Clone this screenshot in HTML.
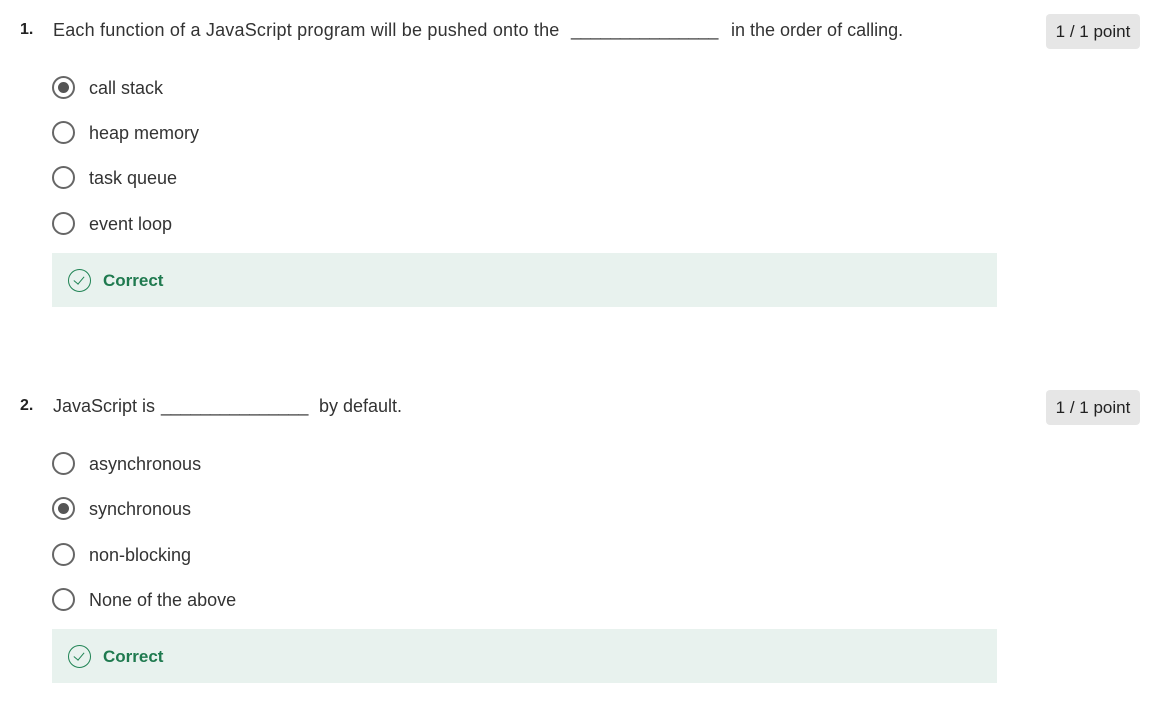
<!DOCTYPE html>
<html><head><meta charset="utf-8"><style>
body{margin:0;width:1158px;height:721px;background:#fff;font-family:"Liberation Sans",sans-serif;color:#1f1f1f;position:relative;overflow:hidden}
.a{position:absolute;white-space:nowrap;line-height:20px}
.q{font-size:18px;color:#333}
.n{font-size:16px;font-weight:bold;color:#222}
.r{position:absolute;width:23px;height:23px;border:2.5px solid #666;border-radius:50%;box-sizing:border-box}
.r.s::after{content:"";position:absolute;left:3.5px;top:3.5px;width:11px;height:11px;border-radius:50%;background:#555}
.o{font-size:18px;color:#333}
.box{position:absolute;left:52px;width:945px;height:54px;background:#e8f2ee}
.ck{position:absolute;left:16px;top:16px;width:23px;height:23px;border:1.5px solid #1f8354;border-radius:50%;box-sizing:border-box}
.ck::after{content:"";position:absolute;left:7px;top:4px;width:5px;height:9px;border:solid #1f8354;border-width:0 1.5px 1.5px 0;transform:rotate(40deg)}
.ct{position:absolute;left:51px;top:18px;font-size:17px;font-weight:bold;color:#1f7a4f}
.b{position:absolute;left:1046px;width:94px;height:35px;background:#e6e6e6;border-radius:4px;font-size:17px;text-align:center;line-height:36px;color:#222}
</style></head><body>
<div class="a n" style="left:20px;top:20px">1.</div>
<div class="a q" style="left:53px;top:20px;letter-spacing:0.2px">Each function of a JavaScript program will be pushed onto the</div>
<div class="a q" style="left:571px;top:20px;letter-spacing:-0.2px">_______________</div>
<div class="a q" style="left:731px;top:20px">in the order of calling.</div>
<div class="b" style="top:14px">1 / 1 point</div>
<div class="r s" style="left:52px;top:76px"></div><div class="a o" style="left:89px;top:78px">call stack</div>
<div class="r" style="left:52px;top:121px"></div><div class="a o" style="left:89px;top:123px">heap memory</div>
<div class="r" style="left:52px;top:166px"></div><div class="a o" style="left:89px;top:168px">task queue</div>
<div class="r" style="left:52px;top:212px"></div><div class="a o" style="left:89px;top:214px">event loop</div>
<div class="box" style="top:253px"><div class="ck"></div><div class="ct">Correct</div></div>

<div class="a n" style="left:20px;top:396px">2.</div>
<div class="a q" style="left:53px;top:396px">JavaScript is</div>
<div class="a q" style="left:161px;top:396px;letter-spacing:-0.2px">_______________</div>
<div class="a q" style="left:319px;top:396px">by default.</div>
<div class="b" style="top:390px">1 / 1 point</div>
<div class="r" style="left:52px;top:452px"></div><div class="a o" style="left:89px;top:454px">asynchronous</div>
<div class="r s" style="left:52px;top:497px"></div><div class="a o" style="left:89px;top:499px">synchronous</div>
<div class="r" style="left:52px;top:543px"></div><div class="a o" style="left:89px;top:545px">non-blocking</div>
<div class="r" style="left:52px;top:588px"></div><div class="a o" style="left:89px;top:590px">None of the above</div>
<div class="box" style="top:629px"><div class="ck"></div><div class="ct">Correct</div></div>
</body></html>
